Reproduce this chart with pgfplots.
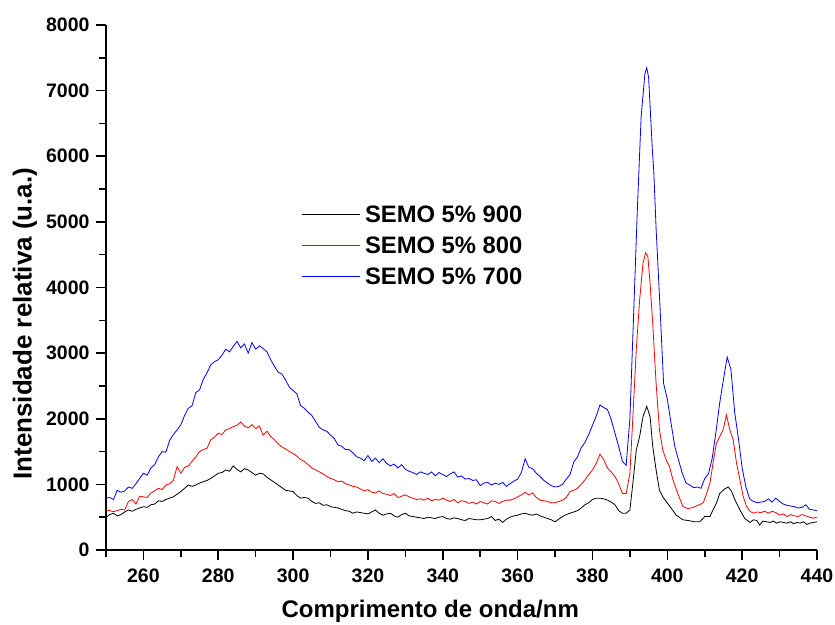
\documentclass[border=0pt]{standalone}
\usepackage{fontspec}
\setmainfont{Liberation Sans}
\usepackage{pgfplots}
\pgfplotsset{compat=1.18}
\begin{document}
\begin{tikzpicture}
\useasboundingbox (-106pt,-74pt) rectangle (729pt,550pt);
\begin{axis}[
  at={(0pt,0pt)}, anchor=south west,
  scale only axis, width=711pt, height=525pt,
  xmin=250, xmax=440, ymin=0, ymax=8000,
  axis lines=left, axis line style={-, line width=2pt},
  tick align=outside,
  major tick length=10pt, minor tick length=6.5pt,
  every tick/.style={black, line width=1.6pt},
  xtick={260,280,...,440}, minor xtick={250,270,...,430},
  ytick={0,1000,...,8000}, minor ytick={500,1500,...,7500},
  scaled ticks=false,
  /pgf/number format/assume math mode=true,
  /pgf/number format/1000 sep={},
  tick label style={font=\bfseries\fontsize{19.5}{20}\selectfont},
  xticklabel style={yshift=-5pt},
  yticklabel style={xshift=-3pt},
  xlabel={\bfseries Comprimento de onda/nm},
  ylabel={\bfseries Intensidade relativa (u.a.)},
  xlabel style={font=\bfseries\fontsize{24}{26}\selectfont, at={(axis description cs:0.456,-0.1295)}, anchor=base},
  ylabel style={font=\bfseries\fontsize{26}{28}\selectfont, at={(axis description cs:-0.1045,0.431)}, anchor=base},
  legend style={draw=none, fill=none, inner sep=0pt,
    at={(rel axis cs:0.2743,0.6557)}, anchor=north west,
    font=\bfseries\fontsize{23.8}{24}\selectfont, row sep=14.5pt,
    nodes={inner sep=0pt, text height=16.5pt, text depth=0pt}},
  legend cell align=left,
  legend image code/.code={\draw[#1] (0pt,0pt) -- (58pt,0pt); \path (63pt,0pt);},
]
\addplot[black, line width=0.8pt] coordinates {
(250,500)(251,540)(252,560)(253,520)(254,540)(255,580)(256,610)(257,590)(258,620)(259,640)
(260,660)(261,650)(262,690)(263,700)(264,750)(265,740)(266,770)(267,790)(268,810)(269,850)
(270,890)(271,940)(272,990)(273,970)(274,990)(275,1020)(276,1040)(277,1060)(278,1090)(279,1130)
(280,1170)(281,1180)(282,1220)(283,1200)(284,1280)(285,1230)(286,1190)(287,1240)(288,1220)(289,1180)
(290,1140)(291,1170)(292,1160)(293,1110)(294,1070)(295,1030)(296,990)(297,950)(298,910)(299,900)
(300,890)(301,830)(302,790)(303,800)(304,790)(305,740)(306,710)(307,720)(308,680)(309,690)
(310,660)(311,650)(312,640)(313,620)(314,600)(315,590)(316,560)(317,580)(318,570)(319,560)
(320,550)(321,580)(322,610)(323,560)(324,530)(325,550)(326,560)(327,520)(328,500)(329,540)
(330,560)(331,520)(332,510)(333,500)(334,490)(335,480)(336,500)(337,490)(338,480)(339,500)
(340,510)(341,480)(342,470)(343,490)(344,480)(345,460)(346,450)(347,480)(348,470)(349,460)
(350,460)(351,470)(352,480)(353,510)(354,450)(355,470)(356,420)(357,470)(358,500)(359,520)
(360,530)(361,550)(362,560)(363,540)(364,530)(365,550)(366,520)(367,500)(368,480)(369,460)
(370,430)(371,470)(372,510)(373,540)(374,560)(375,580)(376,600)(377,640)(378,690)(379,720)
(380,770)(381,790)(382,790)(383,780)(384,760)(385,730)(386,690)(387,600)(388,560)(389,560)
(390,610)(390.8,1020)(391.7,1520)(392.6,1730)(393.5,2030)(394.5,2190)(395.4,2030)(396.1,1580)(397,1220)(397.9,910)
(398.8,810)(399.7,740)(401,640)(402.4,530)(404.2,460)(405.5,450)(407.3,430)(408.7,430)(410,510)(411.4,510)
(412.2,610)(413.1,710)(414,860)(415.3,930)(416.3,960)(417.2,890)(418.1,760)(419.4,610)(420.7,480)(422.1,420)
(423,460)(423.9,450)(424.7,380)(425.5,440)(426.5,430)(427.5,420)(428.3,440)(429.2,410)(430.1,430)(431,420)
(431.9,410)(433,430)(433.7,400)(434.6,420)(435.5,410)(436.4,430)(437.3,390)(438.2,410)(439.1,420)(440,430)
};
\addlegendentry{SEMO 5\% 900}
\addplot[red, line width=0.8pt] coordinates {
(250,610)(251,600)(252,585)(253,600)(254,620)(255,610)(256,740)(257,770)(258,700)(259,820)
(260,810)(261,800)(262,870)(263,900)(264,940)(265,920)(266,990)(267,1010)(268,1060)(269,1270)
(270,1170)(271,1260)(272,1280)(273,1350)(274,1420)(275,1500)(276,1530)(277,1550)(278,1680)(279,1720)
(280,1780)(281,1760)(282,1830)(283,1850)(284,1880)(285,1900)(286,1950)(287,1890)(288,1860)(289,1910)
(290,1850)(291,1890)(292,1750)(293,1810)(294,1730)(295,1680)(296,1620)(297,1570)(298,1540)(299,1500)
(300,1470)(301,1430)(302,1380)(303,1350)(304,1300)(305,1250)(306,1220)(307,1190)(308,1160)(309,1120)
(310,1090)(311,1070)(312,1040)(313,1050)(314,1010)(315,990)(316,970)(317,960)(318,930)(319,900)
(320,920)(321,880)(322,870)(323,900)(324,860)(325,850)(326,830)(327,860)(328,800)(329,820)
(330,840)(331,810)(332,790)(333,770)(334,780)(335,760)(336,790)(337,750)(338,770)(339,760)
(340,790)(341,760)(342,740)(343,770)(344,720)(345,750)(346,740)(347,710)(348,730)(349,700)
(350,740)(351,720)(352,700)(353,750)(354,740)(355,710)(356,740)(357,760)(358,760)(359,780)
(360,810)(361,840)(362,880)(363,840)(364,870)(365,800)(366,760)(367,750)(368,740)(369,720)
(370,720)(371,740)(372,760)(373,800)(374,890)(375,910)(376,940)(377,1000)(378,1070)(379,1150)
(380,1220)(381,1320)(382,1460)(383,1380)(384,1250)(385,1190)(386,1120)(387,1010)(388,860)(389,860)
(390,1170)(390.8,2030)(391.7,3050)(392.6,3810)(393.5,4370)(394.2,4530)(394.8,4470)(395.4,4060)(396.1,3450)(397,2540)
(397.9,1830)(398.8,1520)(399.7,1370)(400.6,1270)(401.5,1070)(402.8,860)(404.2,660)(405.5,630)(406.9,650)(408.6,690)
(409.6,720)(410.5,860)(411.4,1020)(412.2,1320)(413.1,1620)(414,1730)(414.9,1830)(415.8,2060)(416.7,1830)(417.6,1680)
(418.5,1320)(419.4,1070)(420.3,810)(421.2,660)(422.1,590)(423,560)(424,580)(425,570)(426,590)(427,560)
(428,590)(429,570)(430,530)(431,550)(432,510)(433,540)(434,520)(435,510)(436,540)(437,520)
(438,500)(439,485)(440,500)
};
\addlegendentry{SEMO 5\% 800}
\addplot[blue, line width=0.8pt] coordinates {
(250,790)(251,800)(252,770)(253,910)(254,880)(255,900)(256,960)(257,940)(258,1010)(259,1090)
(260,1170)(261,1140)(262,1250)(263,1300)(264,1420)(265,1500)(266,1490)(267,1670)(268,1760)(269,1830)
(270,1910)(271,2050)(272,2160)(273,2200)(274,2400)(275,2440)(276,2600)(277,2700)(278,2820)(279,2870)
(280,2900)(281,2970)(282,3060)(283,3020)(284,3100)(285,3180)(286,3080)(287,3140)(288,3000)(289,3160)
(290,3060)(291,3110)(292,3070)(293,3020)(294,2900)(295,2800)(296,2710)(297,2680)(298,2590)(299,2480)
(300,2430)(301,2380)(302,2200)(303,2160)(304,2100)(305,2050)(306,1960)(307,1870)(308,1830)(309,1810)
(310,1750)(311,1700)(312,1600)(313,1580)(314,1530)(315,1530)(316,1480)(317,1420)(318,1400)(319,1360)
(320,1440)(321,1350)(322,1400)(323,1330)(324,1390)(325,1320)(326,1280)(327,1310)(328,1250)(329,1300)
(330,1230)(331,1200)(332,1180)(333,1150)(334,1190)(335,1170)(336,1150)(337,1190)(338,1130)(339,1180)
(340,1150)(341,1120)(342,1160)(343,1190)(344,1110)(345,1130)(346,1080)(347,1090)(348,1060)(349,1070)
(350,980)(351,1020)(352,1030)(353,990)(354,1020)(355,1000)(356,1030)(357,970)(358,1010)(359,1050)
(360,1080)(361,1180)(362,1390)(363,1260)(364,1240)(365,1170)(366,1120)(367,1060)(368,1020)(369,980)
(370,960)(371,970)(372,1000)(373,1080)(374,1150)(375,1340)(376,1420)(377,1560)(378,1640)(379,1760)
(380,1900)(381,2040)(382,2210)(383,2170)(384,2140)(385,1990)(386,1780)(387,1580)(388,1350)(389,1290)
(390,2000)(391,3600)(392,5200)(393,6600)(394,7250)(394.5,7350)(395,7200)(396,6100)(396.4,5750)(397,4900)
(398,3760)(399,2540)(400,2300)(401,1930)(402,1580)(403,1370)(404,1170)(405,1020)(406,990)(407,950)
(408,960)(409,940)(410,1090)(411,1160)(412,1400)(413,1800)(414,2240)(415,2600)(416,2940)(417,2750)
(418,2100)(419,1700)(420,1250)(421,960)(422,780)(423,740)(424,720)(425,730)(426,740)(427,780)
(428,730)(429,790)(430,740)(431,700)(432,680)(433,670)(434,660)(435,640)(436,650)(437,690)
(438,620)(439,610)(440,600)
};
\addlegendentry{SEMO 5\% 700}
\end{axis}
\end{tikzpicture}
\end{document}
